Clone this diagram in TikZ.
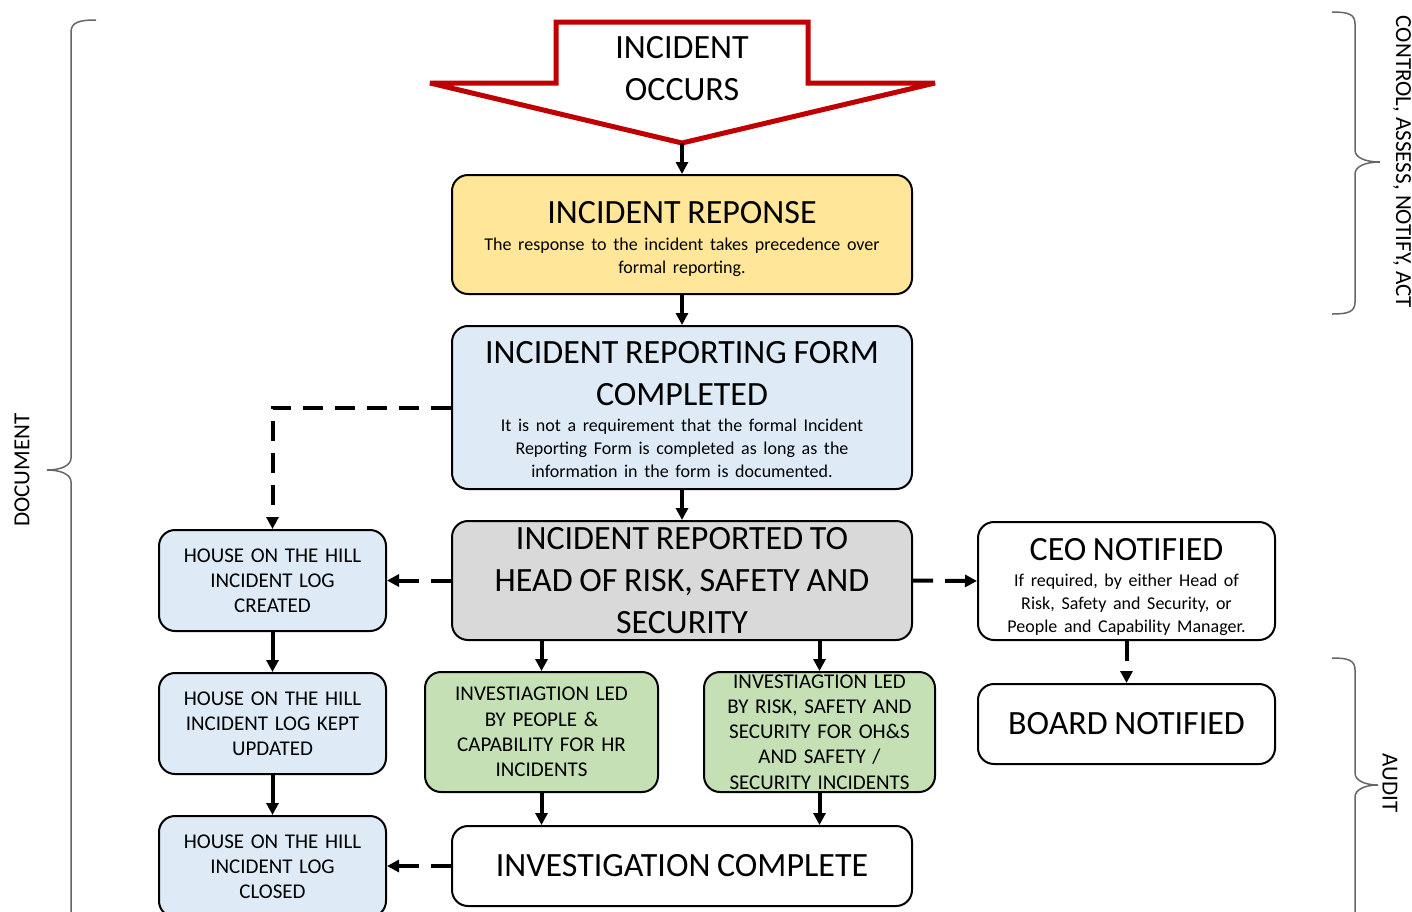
\documentclass[tikz,border=0pt]{standalone}
\usepackage{fontspec}
\setmainfont{Carlito}
\usetikzlibrary{arrows.meta}
\tikzset{>={Triangle[length=6pt,width=6pt]}}
\definecolor{respyellow}{RGB}{255,230,153}
\definecolor{formblue}{RGB}{222,235,247}
\definecolor{reportgray}{RGB}{217,217,217}
\definecolor{investgreen}{RGB}{197,224,180}
\definecolor{alertred}{RGB}{192,0,0}
\newcommand{\bigtxt}{\fontsize{17}{21}\selectfont}
\newcommand{\midtxt}{\fontsize{10.5}{12.6}\selectfont}
\newcommand{\subtxt}{\fontsize{9}{11.5}\selectfont}
\newcommand{\sidetxt}{\fontsize{11.5}{14}\selectfont}
\newcommand{\padtop}[1]{\rule{0pt}{#1}}
\tikzstyle{flowbox}=[draw=black,line width=1pt,rounded corners=8pt,align=center,inner sep=1pt]
\tikzstyle{widebox}=[flowbox,minimum width=230pt,text width=226pt]
\tikzstyle{notebox}=[flowbox,fill=white,minimum width=148.5pt,text width=144pt]
\tikzstyle{hillbox}=[flowbox,fill=formblue,minimum width=113.5pt,minimum height=50.5pt,text width=110pt]
\tikzstyle{greenbox}=[flowbox,fill=investgreen,minimum height=60pt]
\tikzstyle{solidarrow}=[->,line width=2pt]
\tikzstyle{dashedarrow}=[->,line width=2pt,dash pattern=on 10pt off 6pt]
\tikzstyle{bracket}=[draw=black!60,line width=0.75pt]

\begin{document}
\begin{tikzpicture}[x=0.5pt,y=-0.5pt]
  \useasboundingbox (0,0) rectangle (1412,911);

  % incident arrow
  \draw[alertred,line width=2.5pt,miter limit=4]
    (556,22) -- (808,22) -- (808,83) -- (935,83) -- (682,143)
    -- (430,83) -- (556,83) -- cycle;
  \node[font=\bigtxt,align=center] (occurs) at (682,69) {INCIDENT\\OCCURS};
  \coordinate (tip) at (682,143);

  % main column
  \node[widebox,fill=respyellow,minimum height=59.5pt] (resp) at (682,234.5)
    {\bigtxt\padtop{16pt}INCIDENT REPONSE\par\vspace{2pt}
     \subtxt The response to the incident takes precedence over\\formal reporting.\par};
  \node[widebox,fill=formblue,minimum height=81.5pt] (form) at (682,407.5)
    {\bigtxt\padtop{13.5pt}INCIDENT REPORTING FORM\\COMPLETED\par\vspace{1.5pt}
     \subtxt It is not a requirement that the formal Incident\\Reporting Form is completed as long as the\\information in the form is documented.\par};
  \node[widebox,fill=reportgray,minimum height=59.5pt] (rep) at (682,580.5)
    {\bigtxt INCIDENT REPORTED TO\\HEAD OF RISK, SAFETY AND\\SECURITY\par};
  \node[widebox,fill=white,minimum height=40pt] (invdone) at (682,866)
    {\bigtxt INVESTIGATION COMPLETE\par};

  % investigations
  \node[greenbox,minimum width=116.5pt,text width=112pt] (hrinv) at (541.5,732)
    {\midtxt INVESTIAGTION LED\\BY PEOPLE \&\\CAPABILITY FOR HR\\INCIDENTS\par};
  \node[greenbox,minimum width=115.5pt,text width=112pt] (rssinv) at (819.5,732)
    {\midtxt INVESTIAGTION LED\\BY RISK, SAFETY AND\\SECURITY FOR OH\&S\\AND SAFETY /\\SECURITY INCIDENTS\par};

  % notifications
  \node[notebox,minimum height=59pt] (ceo) at (1126.5,581)
    {\bigtxt\padtop{17pt}CEO NOTIFIED\par\vspace{1.5pt}
     \subtxt If required, by either Head of\\Risk, Safety and Security, or\\People and Capability Manager.\par};
  \node[notebox,minimum height=40pt] (board) at (1126.5,724)
    {\bigtxt BOARD NOTIFIED\par};

  % incident log
  \node[hillbox] (hcreate) at (272.5,580.5)
    {\midtxt HOUSE ON THE HILL\\INCIDENT LOG\\CREATED\par};
  \node[hillbox] (hupdate) at (272.5,723.5)
    {\midtxt HOUSE ON THE HILL\\INCIDENT LOG KEPT\\UPDATED\par};
  \node[hillbox] (hclose) at (272.5,866.5)
    {\midtxt HOUSE ON THE HILL\\INCIDENT LOG\\CLOSED\par};

  % connectors
  \draw[solidarrow] (tip) -- (resp.north);
  \draw[solidarrow] (resp.south) -- (form.north);
  \draw[solidarrow] (form.south) -- (rep.north);
  \draw[dashedarrow] (form.west) -| (hcreate.north);
  \draw[dashedarrow] (rep.west) -- (hcreate.east);
  \draw[dashedarrow] (rep.east) -- (ceo.west);
  \draw[dashedarrow] (ceo.south) -- (board.north);
  \draw[solidarrow] (hrinv.north |- rep.south) -- (hrinv.north);
  \draw[solidarrow] (rssinv.north |- rep.south) -- (rssinv.north);
  \draw[solidarrow] (hrinv.south) -- (hrinv.south |- invdone.north);
  \draw[solidarrow] (rssinv.south) -- (rssinv.south |- invdone.north);
  \draw[solidarrow] (hcreate.south) -- (hupdate.north);
  \draw[solidarrow] (hupdate.south) -- (hclose.north);
  \draw[dashedarrow] (invdone.west) -- (invdone.west -| hclose.east);

  % braces
  \draw[bracket] (96,20) .. controls (80,20) and (71,22) .. (71,32) -- (71,458)
    .. controls (71,466) and (60,470) .. (47,470)
    .. controls (60,470) and (71,474) .. (71,482) -- (71,925);
  \draw[bracket] (1332,12) .. controls (1348,12) and (1355,14) .. (1355,24) -- (1355,150)
    .. controls (1355,158) and (1366,162) .. (1380,162)
    .. controls (1366,162) and (1355,166) .. (1355,174) -- (1355,302)
    .. controls (1355,312) and (1348,314) .. (1332,314);
  \draw[bracket] (1332,658) .. controls (1348,658) and (1355,660) .. (1355,670) -- (1355,773)
    .. controls (1355,781) and (1366,785) .. (1378,785)
    .. controls (1366,785) and (1355,789) .. (1355,797) -- (1355,925);
  \node[rotate=90,font=\sidetxt] (doclabel) at (22,470) {DOCUMENT};
  \node[rotate=-90,font=\sidetxt] (ctrllabel) at (1402,162) {CONTROL, ASSESS, NOTIFY, ACT};
  \node[rotate=-90,font=\sidetxt] (auditlabel) at (1390,783) {AUDIT};
\end{tikzpicture}
\end{document}
